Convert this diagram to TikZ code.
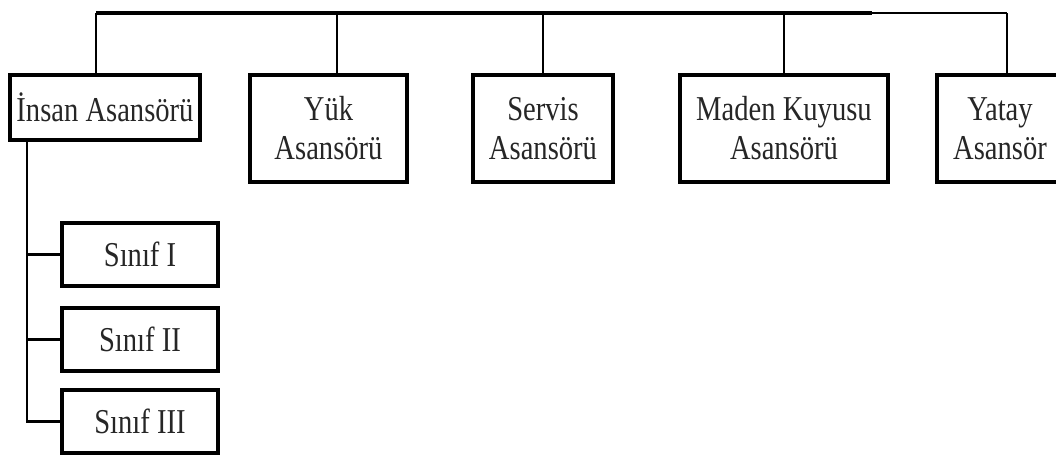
\documentclass[tikz,border=0pt]{standalone}
\usepackage{fontspec}
\setmainfont{Liberation Serif}[FakeStretch=0.82]
\usepackage{tikz}
\usetikzlibrary{positioning}

\tikzset{
    box/.style={draw, line width=2.4pt, inner sep=2pt, align=center, text=black!85,
        font=\fontsize{24.8}{27.7}\selectfont},
    link/.style={line width=1.6pt},
}

\begin{document}
\begin{tikzpicture}[x=0.025cm, y=-0.025cm]
\useasboundingbox (0,0) rectangle (1056,454);

\node[box, minimum width=190*0.025cm, minimum height=65*0.025cm] (insan) at (105,107.5) {İnsan Asansörü};

\foreach \x/\w/\name/\txt in {328.5/157/yuk/{Yük\\Asansörü}, 543/140/servis/{Servis\\Asansörü}, 784/208/maden/{Maden Kuyusu\\Asansörü}, 1000/126/yatay/{Yatay\\Asansör}} {
    \node[box, minimum width=\w*0.025cm, minimum height=107*0.025cm] (\name) at (\x,128.5) {\txt};
}

\foreach \y/\name/\txt in {254.5/s1/Sınıf I, 339.5/s2/Sınıf II, 421.5/s3/Sınıf III} {
    \node[box, minimum width=156*0.025cm, minimum height=63*0.025cm] (\name) at (140,\y) {\txt};
}

% top bus
\coordinate (busL) at (96,13);
\coordinate (busY) at (337,13);
\coordinate (busM) at (872,13);
\coordinate (busR) at (1007,13);
\draw[line width=3pt] (busL) -- (busM);
\draw[line width=1.4pt] (busM) -- (busR);

\draw[link] (busL) -- (busL |- insan.north);
\draw[link] (busY) -- (busY |- yuk.north);
\draw[link] (busL -| servis.north) -- (servis.north);
\draw[link] (busL -| maden.north) -- (maden.north);
\draw[link] (busR) -- (busR |- yatay.north);

% classes
\coordinate (spine) at (27,140);
\draw[link] (spine) |- (s3.west);
\draw[link] (spine |- s1.west) -- (s1.west);
\draw[link] (spine |- s2.west) -- (s2.west);
\end{tikzpicture}
\end{document}
